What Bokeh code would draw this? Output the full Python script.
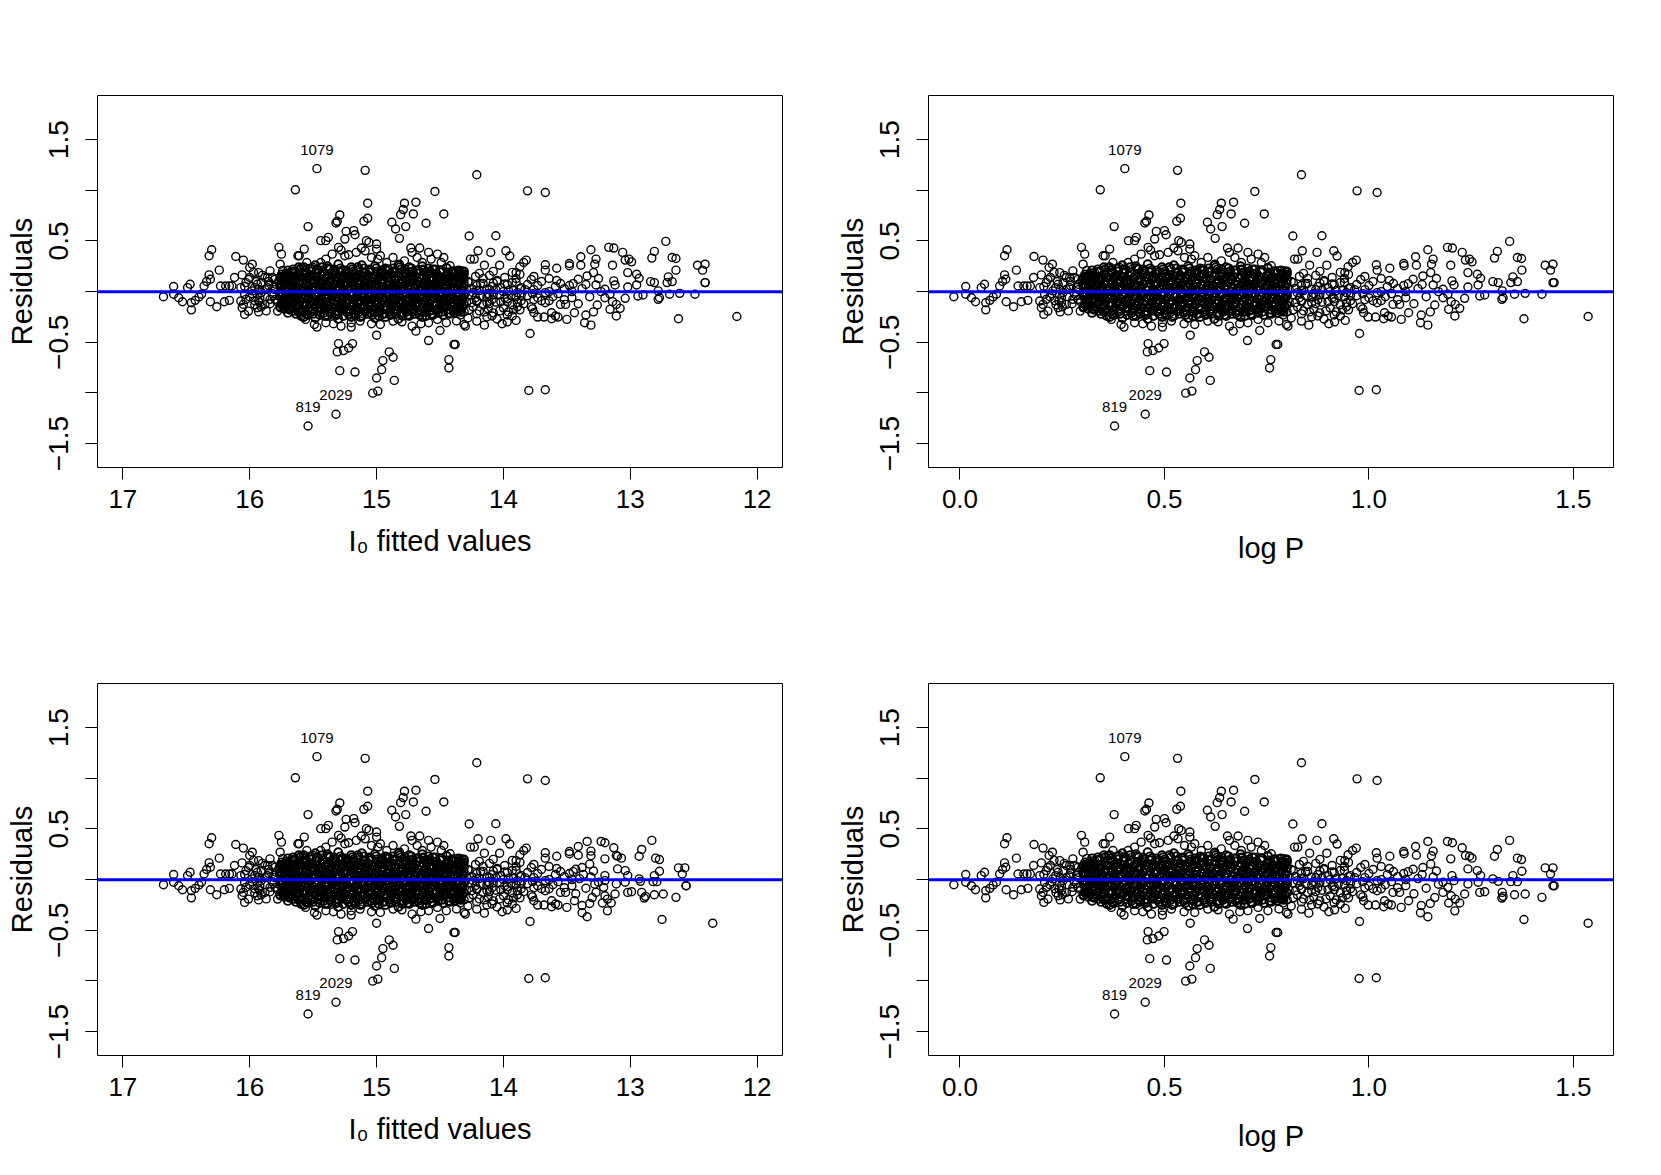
from bokeh.plotting import figure
from bokeh.models import Range1d, FixedTicker, Span, ColumnDataSource
from bokeh.layouts import column, row
from bokeh.embed import file_html
from bokeh.resources import INLINE
from bokeh.core.properties import value

# ---------------- data ----------------
# dense core of the cloud: four interleaved sets of log P columns
lp_even = [0.302, 0.315, 0.333, 0.347, 0.366, 0.379, 0.397, 0.411, 0.429, 0.443,
           0.461, 0.475, 0.493, 0.507, 0.525, 0.539, 0.557, 0.571, 0.589, 0.603,
           0.621, 0.635, 0.653, 0.667, 0.685, 0.699, 0.717, 0.731, 0.749, 0.763,
           0.781, 0.795]
fit_even = [15.760, 15.722, 15.670, 15.629, 15.573, 15.536, 15.483, 15.442, 15.390, 15.349,
            15.297, 15.256, 15.203, 15.163, 15.110, 15.069, 15.017, 14.976, 14.924, 14.883,
            14.830, 14.790, 14.737, 14.696, 14.644, 14.603, 14.551, 14.510, 14.457, 14.417,
            14.364, 14.323]
lp_odd = [0.309, 0.323, 0.341, 0.355, 0.373, 0.387, 0.405, 0.419, 0.437, 0.451,
          0.469, 0.483, 0.501, 0.515, 0.533, 0.547, 0.565, 0.579, 0.597, 0.611,
          0.629, 0.643, 0.661, 0.675, 0.693, 0.707, 0.725, 0.739, 0.757, 0.771,
          0.787]
fit_odd = [15.740, 15.699, 15.646, 15.606, 15.553, 15.512, 15.460, 15.419, 15.367, 15.326,
           15.273, 15.233, 15.180, 15.139, 15.087, 15.046, 14.994, 14.953, 14.900, 14.860,
           14.807, 14.766, 14.714, 14.673, 14.621, 14.580, 14.527, 14.487, 14.434, 14.393,
           14.347]
lp_q = [0.306, 0.320, 0.337, 0.352, 0.370, 0.384, 0.401, 0.416, 0.433, 0.448,
        0.465, 0.480, 0.497, 0.512, 0.529, 0.544, 0.561, 0.576, 0.593, 0.608,
        0.625, 0.640, 0.657, 0.672, 0.689, 0.704, 0.721, 0.736, 0.753, 0.768,
        0.785, 0.799]
fit_q = [15.748, 15.708, 15.658, 15.614, 15.562, 15.521, 15.472, 15.428, 15.378, 15.335,
         15.285, 15.241, 15.192, 15.148, 15.099, 15.055, 15.005, 14.962, 14.912, 14.868,
         14.819, 14.775, 14.726, 14.682, 14.632, 14.589, 14.539, 14.495, 14.446, 14.402,
         14.353, 14.312]
lp_r = [0.313, 0.327, 0.345, 0.359, 0.377, 0.391, 0.409, 0.423, 0.441, 0.455,
        0.473, 0.487, 0.505, 0.519, 0.537, 0.551, 0.569, 0.583, 0.601, 0.615,
        0.633, 0.647, 0.665, 0.679, 0.697, 0.711, 0.729, 0.743, 0.761, 0.775,
        0.791]
fit_r = [15.728, 15.687, 15.635, 15.594, 15.541, 15.501, 15.448, 15.407, 15.355, 15.314,
         15.262, 15.221, 15.168, 15.128, 15.075, 15.034, 14.982, 14.941, 14.889, 14.848,
         14.795, 14.755, 14.702, 14.661, 14.609, 14.568, 14.516, 14.475, 14.422, 14.382,
         14.335]
lp_sparse = [0.366, 0.397, 0.430, 0.459, 0.494, 0.523, 0.558, 0.587, 0.622, 0.651, 0.686, 0.715]
fit_sparse = [15.573, 15.483, 15.387, 15.302, 15.200, 15.116, 15.014, 14.930, 14.828, 14.743, 14.641, 14.557]

res_p15 = [0.14, 0.16, 0.15, 0.13, 0.16, 0.15, 0.14, 0.16, 0.15, 0.17,
           0.14, 0.15, 0.16, 0.14, 0.15, 0.16, 0.13, 0.15, 0.16, 0.14,
           0.15, 0.16, 0.14, 0.15, 0.13, 0.16, 0.14, 0.15, 0.13, 0.15, 0.14, 0.16]
res_p05 = [0.05, 0.04, 0.06, 0.05, 0.04, 0.06, 0.05, 0.03, 0.06, 0.05,
           0.04, 0.06, 0.05, 0.04, 0.05, 0.06, 0.04, 0.05, 0.06, 0.04,
           0.05, 0.05, 0.06, 0.04, 0.05, 0.06, 0.04, 0.05, 0.06, 0.04, 0.05, 0.04]
res_m05 = [-0.05, -0.06, -0.04, -0.05, -0.06, -0.04, -0.05, -0.07, -0.05, -0.04,
           -0.06, -0.05, -0.04, -0.06, -0.05, -0.05, -0.06, -0.04, -0.05, -0.06,
           -0.05, -0.04, -0.06, -0.05, -0.04, -0.06, -0.05, -0.04, -0.06, -0.05, -0.04, -0.06]
res_m15 = [-0.15, -0.14, -0.16, -0.15, -0.14, -0.16, -0.15, -0.17, -0.14, -0.15,
           -0.16, -0.14, -0.15, -0.16, -0.15, -0.14, -0.16, -0.15, -0.17, -0.14,
           -0.15, -0.16, -0.15, -0.14, -0.16, -0.15, -0.14, -0.16, -0.15, -0.14, -0.16, -0.15]
res_p20 = [0.15, 0.21, 0.20, 0.22, 0.19, 0.20, 0.21, 0.19, 0.22, 0.20,
           0.21, 0.19, 0.20, 0.22, 0.19, 0.21, 0.20, 0.19, 0.21, 0.20,
           0.22, 0.19, 0.20, 0.21, 0.19, 0.20, 0.18, 0.21, 0.19, 0.20, 0.18]
res_p10 = [0.10, 0.09, 0.11, 0.10, 0.08, 0.11, 0.10, 0.09, 0.11, 0.10,
           0.12, 0.09, 0.10, 0.11, 0.09, 0.10, 0.11, 0.08, 0.10, 0.11,
           0.09, 0.10, 0.12, 0.10, 0.09, 0.11, 0.10, 0.09, 0.11, 0.10, 0.09]
res_000 = [-0.01, 0.00, 0.01, -0.01, 0.00, 0.02, -0.01, 0.00, 0.01, -0.02,
           0.00, 0.01, -0.01, 0.00, 0.02, -0.01, 0.00, 0.01, -0.01, 0.00,
           0.01, -0.02, 0.00, 0.01, -0.01, 0.00, 0.02, -0.01, 0.00, 0.01, -0.01]
res_m10 = [-0.10, -0.11, -0.09, -0.10, -0.12, -0.10, -0.09, -0.11, -0.10, -0.09,
           -0.11, -0.10, -0.12, -0.10, -0.09, -0.11, -0.10, -0.09, -0.11, -0.10,
           -0.12, -0.09, -0.10, -0.11, -0.10, -0.09, -0.11, -0.10, -0.09, -0.11, -0.10]
res_m20 = [-0.14, -0.21, -0.19, -0.20, -0.22, -0.20, -0.19, -0.21, -0.20, -0.22,
           -0.19, -0.20, -0.21, -0.20, -0.19, -0.21, -0.20, -0.22, -0.20, -0.19,
           -0.21, -0.20, -0.19, -0.21, -0.20, -0.19, -0.18, -0.20, -0.21, -0.19, -0.18]
res_p225 = [0.12, 0.16, 0.22, 0.24, 0.21, 0.23, 0.22, 0.24, 0.23, 0.22,
            0.23, 0.21, 0.22, 0.24, 0.23, 0.22, 0.23, 0.21, 0.22, 0.23,
            0.24, 0.22, 0.23, 0.21, 0.22, 0.23, 0.22, 0.21, 0.23, 0.20, 0.21, 0.20]
res_p175 = [0.17, 0.18, 0.19, 0.17, 0.18, 0.16, 0.18, 0.19, 0.17, 0.18,
            0.19, 0.17, 0.18, 0.16, 0.18, 0.19, 0.17, 0.18, 0.17, 0.19,
            0.18, 0.17, 0.19, 0.18, 0.16, 0.18, 0.17, 0.19, 0.17, 0.18, 0.16, 0.17]
res_p075 = [0.07, 0.08, 0.06, 0.08, 0.07, 0.09, 0.07, 0.08, 0.06, 0.07,
            0.08, 0.07, 0.09, 0.07, 0.06, 0.08, 0.07, 0.08, 0.07, 0.06,
            0.08, 0.07, 0.09, 0.07, 0.08, 0.06, 0.07, 0.08, 0.07, 0.09, 0.07, 0.08]
res_m025 = [-0.02, -0.03, -0.02, -0.04, -0.03, -0.02, -0.03, -0.01, -0.03, -0.02,
            -0.04, -0.02, -0.03, -0.02, -0.03, -0.04, -0.02, -0.03, -0.01, -0.03,
            -0.02, -0.03, -0.04, -0.02, -0.03, -0.02, -0.03, -0.04, -0.02, -0.03, -0.02, -0.03]
res_m125 = [-0.12, -0.13, -0.12, -0.14, -0.13, -0.12, -0.13, -0.11, -0.13, -0.12,
            -0.14, -0.12, -0.13, -0.12, -0.13, -0.14, -0.12, -0.13, -0.11, -0.13,
            -0.12, -0.13, -0.14, -0.12, -0.13, -0.12, -0.13, -0.14, -0.12, -0.13, -0.12, -0.13]
res_p125 = [0.12, 0.13, 0.12, 0.14, 0.13, 0.12, 0.11, 0.13, 0.12, 0.14,
            0.13, 0.12, 0.13, 0.11, 0.12, 0.13, 0.14, 0.12, 0.13, 0.12,
            0.11, 0.13, 0.12, 0.14, 0.12, 0.13, 0.12, 0.11, 0.13, 0.12, 0.13]
res_p025 = [0.03, 0.02, 0.03, 0.01, 0.02, 0.03, 0.04, 0.02, 0.03, 0.02,
            0.01, 0.03, 0.02, 0.04, 0.03, 0.02, 0.03, 0.01, 0.02, 0.03,
            0.02, 0.04, 0.03, 0.02, 0.01, 0.03, 0.02, 0.03, 0.02, 0.04, 0.02]
res_m075 = [-0.07, -0.08, -0.07, -0.06, -0.08, -0.07, -0.09, -0.07, -0.08, -0.06,
            -0.07, -0.08, -0.07, -0.09, -0.08, -0.07, -0.06, -0.08, -0.07, -0.08,
            -0.09, -0.07, -0.08, -0.06, -0.07, -0.08, -0.07, -0.09, -0.07, -0.08, -0.07]
res_m175 = [-0.17, -0.18, -0.17, -0.19, -0.18, -0.17, -0.16, -0.18, -0.17, -0.19,
            -0.18, -0.17, -0.18, -0.16, -0.17, -0.18, -0.19, -0.17, -0.18, -0.17,
            -0.16, -0.18, -0.17, -0.19, -0.17, -0.18, -0.17, -0.16, -0.18, -0.17, -0.18]
res_m225 = [-0.12, -0.17, -0.22, -0.24, -0.23, -0.22, -0.23, -0.24, -0.22, -0.23,
            -0.24, -0.22, -0.23, -0.25, -0.22, -0.23, -0.24, -0.22, -0.23, -0.22,
            -0.24, -0.23, -0.22, -0.23, -0.24, -0.22, -0.21, -0.23, -0.22, -0.21, -0.20]
res_p25 = [0.24, 0.26, 0.25, 0.27, 0.24, 0.26, 0.25, 0.23, 0.26, 0.24, 0.25, 0.22]
res_m25 = [-0.25, -0.26, -0.24, -0.27, -0.25, -0.24, -0.26, -0.25, -0.27, -0.24, -0.25, -0.23]

# short-period end of the cloud
low_lp = [-0.015, 0.014, 0.014, 0.028, 0.038, 0.052, 0.060, 0.063, 0.063, 0.073,
          0.081, 0.089, 0.097, 0.104, 0.109, 0.112, 0.109, 0.115, 0.113, 0.131,
          0.138, 0.142, 0.150, 0.156, 0.164, 0.166, 0.172, 0.181, 0.180, 0.195,
          0.199, 0.203, 0.203, 0.205, 0.207, 0.211, 0.218, 0.221, 0.226, 0.195,
          0.199, 0.244, 0.248, 0.248, 0.240, 0.260, 0.252, 0.268, 0.276, 0.289,
          0.294, 0.297, 0.305, 0.301, 0.309, 0.317, 0.329, 0.333, 0.342, 0.350,
          0.350, 0.301, 0.285, 0.227, 0.240, 0.260, 0.301, 0.325, 0.276, 0.211,
          0.234, 0.252, 0.268, 0.289, 0.317, 0.325, 0.342, 0.346, 0.215, 0.242,
          0.220, 0.235, 0.260, 0.280, 0.290, 0.310, 0.265, 0.310, 0.270, 0.230,
          0.205, 0.215, 0.225, 0.232, 0.238, 0.245, 0.250, 0.255, 0.262, 0.270,
          0.274, 0.280, 0.285, 0.290, 0.295, 0.298, 0.305, 0.310, 0.315, 0.320,
          0.325, 0.330, 0.335, 0.340, 0.245]
low_res = [-0.050, 0.050, -0.026, -0.060, -0.100, 0.040, 0.073, -0.180, -0.110, -0.086,
           -0.053, -0.026, 0.056, 0.100, 0.165, 0.122, 0.354, 0.413, -0.100, -0.149,
           0.212, 0.056, -0.100, 0.056, 0.056, -0.086, 0.056, 0.347, 0.139, 0.040,
           0.165, 0.311, -0.126, -0.225, -0.026, -0.076, 0.238, 0.139, 0.271, -0.093,
           -0.159, 0.188, -0.109, -0.060, 0.073, 0.139, -0.010, 0.040, 0.205, -0.076,
           -0.192, 0.437, 0.370, 0.271, -0.126, 0.139, 0.188, 0.007, -0.060, 0.354,
           -0.192, 0.073, 0.040, 0.007, -0.159, -0.126, -0.159, -0.076, -0.076, 0.089,
           0.040, 0.089, 0.139, 0.122, 0.040, 0.089, 0.139, 0.040, -0.192, -0.093,
           -0.050, -0.130, 0.020, -0.020, 0.070, -0.040, -0.190, 0.210, 0.100, 0.190,
           0.050, 0.120, -0.020, -0.090, 0.100, 0.020, -0.150, 0.160, -0.050, 0.060,
           -0.120, 0.140, -0.040, 0.020, -0.100, 0.110, 0.000, -0.080, 0.070, -0.140,
           0.150, -0.020, 0.090, -0.110, -0.200]
low_fit = [16.68, 16.60, 16.60, 16.56, 16.53, 16.49, 16.47, 16.46, 16.46, 16.43,
           16.40, 16.38, 16.36, 16.34, 16.32, 16.31, 16.32, 16.30, 16.31, 16.26,
           16.24, 16.23, 16.20, 16.19, 16.16, 16.16, 16.14, 16.11, 16.12, 16.07,
           16.06, 16.05, 16.05, 16.04, 16.04, 16.03, 16.00, 16.00, 15.98, 16.07,
           16.06, 15.93, 15.92, 15.92, 15.94, 15.88, 15.91, 15.86, 15.84, 15.80,
           15.78, 15.77, 15.75, 15.76, 15.74, 15.72, 15.68, 15.67, 15.64, 15.62,
           15.62, 15.76, 15.81, 15.98, 15.94, 15.88, 15.76, 15.69, 15.84, 16.03,
           15.96, 15.91, 15.86, 15.80, 15.72, 15.69, 15.64, 15.63, 16.01, 15.93,
           16.00, 15.96, 15.88, 15.82, 15.79, 15.74, 15.87, 15.74, 15.85, 15.97,
           16.04, 16.01, 15.98, 15.96, 15.95, 15.93, 15.91, 15.90, 15.88, 15.85,
           15.84, 15.82, 15.81, 15.80, 15.78, 15.77, 15.75, 15.74, 15.72, 15.71,
           15.69, 15.68, 15.66, 15.65, 15.93]

# points above the dense band
up_lp = [0.403, 0.532, 0.343, 0.721, 0.744, 0.540, 0.639, 0.669, 0.635, 0.663,
         0.629, 0.605, 0.613, 0.641, 0.624, 0.696, 0.539, 0.530, 0.462, 0.452,
         0.456, 0.377, 0.480, 0.500, 0.504, 0.412, 0.427, 0.431, 0.476, 0.535,
         0.541, 0.562, 0.366, 0.355, 0.460, 0.466, 0.488, 0.523, 0.654, 0.680,
         0.659, 0.704, 0.729, 0.745, 0.761, 0.562, 0.574, 0.390, 0.411, 0.427,
         0.443, 0.476, 0.509, 0.533, 0.549, 0.566, 0.590, 0.606, 0.623, 0.639,
         0.672, 0.688, 0.712, 0.737, 0.753, 0.778, 0.362, 0.374]
up_res = [1.214, 1.197, 1.005, 0.989, 0.767, 0.873, 0.873, 0.883, 0.810, 0.767,
          0.760, 0.685, 0.618, 0.642, 0.526, 0.675, 0.724, 0.694, 0.757, 0.678,
          0.694, 0.642, 0.595, 0.602, 0.562, 0.503, 0.503, 0.536, 0.519, 0.503,
          0.486, 0.470, 0.420, 0.354, 0.437, 0.410, 0.364, 0.430, 0.430, 0.430,
          0.387, 0.387, 0.370, 0.337, 0.255, 0.420, 0.354, 0.238, 0.288, 0.321,
          0.370, 0.354, 0.387, 0.403, 0.337, 0.321, 0.288, 0.337, 0.271, 0.304,
          0.337, 0.288, 0.321, 0.288, 0.238, 0.205, 0.238, 0.288]
up_fit = [15.47, 15.09, 15.64, 14.54, 14.47, 15.07, 14.78, 14.69, 14.79, 14.71,
          14.81, 14.88, 14.85, 14.77, 14.82, 14.61, 15.07, 15.10, 15.29, 15.32,
          15.31, 15.54, 15.24, 15.18, 15.17, 15.44, 15.40, 15.38, 15.25, 15.08,
          15.06, 15.00, 15.57, 15.61, 15.30, 15.28, 15.22, 15.12, 14.73, 14.66,
          14.72, 14.59, 14.52, 14.47, 14.42, 15.00, 14.97, 15.50, 15.44, 15.40,
          15.35, 15.25, 15.16, 15.09, 15.04, 14.99, 14.92, 14.87, 14.82, 14.78,
          14.68, 14.64, 14.57, 14.49, 14.45, 14.37, 15.59, 15.55]

# points below the dense band
dn_lp = [0.378, 0.453, 0.464, 0.505, 0.460, 0.458, 0.472, 0.486, 0.499, 0.563,
         0.552, 0.567, 0.562, 0.576, 0.580, 0.598, 0.609, 0.612, 0.703, 0.733,
         0.760, 0.757, 0.773, 0.668, 0.401, 0.447, 0.468, 0.495, 0.495, 0.548,
         0.631, 0.659, 0.684, 0.753, 0.780, 0.976, 1.018, 0.370, 0.394, 0.427,
         0.517, 0.574, 0.606, 0.704, 0.729]
dn_res = [-1.326, -1.210, -0.780, -0.794, -0.513, -0.595, -0.582, -0.556, -0.513, -0.430,
          -1.002, -0.982, -0.853, -0.770, -0.681, -0.595, -0.648, -0.876, -0.483, -0.384,
          -0.671, -0.754, -0.522, -0.390, -0.350, -0.317, -0.340, -0.350, -0.307, -0.317,
          -0.298, -0.340, -0.317, -0.307, -0.290, -0.976, -0.969, -0.274, -0.324, -0.307,
          -0.291, -0.324, -0.291, -0.307, -0.274]
dn_fit = [15.54, 15.32, 15.29, 15.17, 15.30, 15.31, 15.26, 15.22, 15.19, 15.00,
          15.03, 14.99, 15.00, 14.96, 14.95, 14.90, 14.87, 14.86, 14.59, 14.50,
          14.43, 14.43, 14.39, 14.69, 15.47, 15.34, 15.28, 15.20, 15.20, 15.04,
          14.80, 14.72, 14.65, 14.45, 14.37, 13.80, 13.67, 15.56, 15.49, 15.40,
          15.13, 14.97, 14.87, 14.59, 14.52]

# 0.78 < log P < 1.1
mid_lp = [0.835, 0.971, 1.020, 0.814, 0.885, 0.837, 0.873, 0.914, 0.922, 0.969,
          0.960, 0.949, 0.941, 0.897, 0.855, 0.826, 0.818, 0.794, 1.018, 1.020,
          1.051, 1.085, 1.086, 1.096, 0.977, 0.777, 0.798, 0.802, 0.853, 0.835,
          0.902, 0.916, 0.942, 0.987, 0.998, 1.016, 1.036, 1.047, 1.055, 1.038,
          1.079, 1.097, 1.059, 1.075, 1.090, 1.010, 0.980,
          0.79, 0.83, 0.87, 0.91, 0.95, 0.99, 1.03,
          0.78, 0.81, 0.85, 0.89, 0.93, 0.97, 1.01, 1.06,
          0.79, 0.82, 0.84, 0.87, 0.90, 0.92, 0.95, 0.99, 1.03, 1.07,
          0.78, 0.80, 0.83, 0.86, 0.88, 0.91, 0.94, 0.97, 1.00, 1.04,
          0.79, 0.82, 0.85, 0.87, 0.90, 0.93, 0.96, 1.02,
          0.80, 0.84, 0.88, 0.92, 0.95,
          0.81, 0.86, 0.89, 0.93,
          0.80, 0.85, 0.89, 0.94, 0.98, 1.05,
          0.795, 0.835, 0.875, 0.915, 0.955, 1.00, 1.045, 1.085,
          0.785, 0.825, 0.865, 0.905, 0.945, 0.985, 1.02, 1.055, 1.09,
          0.795, 0.835, 0.875, 0.915, 0.955, 0.99, 1.03, 1.07,
          0.785, 0.825, 0.865, 0.905, 0.945, 0.985,
          0.79, 0.835, 0.875, 0.915]
mid_res = [1.154, 0.995, 0.979, 0.549, 0.552, 0.403, 0.387, 0.403, 0.351, 0.311,
           0.288, 0.245, 0.188, 0.261, 0.261, 0.321, 0.321, 0.205, 0.265, 0.212,
           0.231, 0.278, 0.255, 0.079, -0.413, -0.522, -0.324, -0.340, -0.331, -0.291,
           -0.317, -0.298, -0.284, -0.208, -0.251, -0.251, -0.268, -0.241, -0.251, -0.208,
           -0.274, -0.208, -0.126, -0.126, -0.060, -0.090, -0.150,
           0.17, 0.15, 0.16, 0.14, 0.17, 0.15, 0.13,
           0.09, 0.10, 0.08, 0.10, 0.09, 0.07, 0.10, 0.08,
           0.02, 0.03, 0.01, 0.02, 0.04, 0.01, 0.03, 0.02, 0.00, 0.03,
           -0.05, -0.04, -0.06, -0.05, -0.03, -0.06, -0.05, -0.04, -0.06, -0.05,
           -0.12, -0.11, -0.13, -0.12, -0.10, -0.13, -0.12, -0.11,
           -0.20, -0.19, -0.21, -0.20, -0.18,
           -0.26, -0.25, -0.27, -0.24,
           0.12, 0.13, 0.11, 0.13, 0.12, 0.11,
           0.05, 0.06, 0.05, 0.07, 0.04, 0.06, 0.05, 0.06,
           -0.02, -0.01, -0.02, 0.00, -0.01, -0.02, -0.01, -0.02, 0.00,
           -0.08, -0.09, -0.08, -0.07, -0.09, -0.08, -0.09, -0.08,
           -0.16, -0.15, -0.17, -0.16, -0.15, -0.17,
           -0.23, -0.22, -0.24, -0.23]
mid_fit = [14.21, 13.81, 13.67, 14.27, 14.06, 14.20, 14.10, 13.98, 13.95, 13.82,
           13.84, 13.87, 13.90, 14.03, 14.15, 14.23, 14.26, 14.33, 13.67, 13.67,
           13.58, 13.48, 13.48, 13.45, 13.79, 14.38, 14.31, 14.30, 14.15, 14.21,
           14.01, 13.97, 13.90, 13.76, 13.73, 13.68, 13.62, 13.59, 13.57, 13.62,
           13.50, 13.44, 13.55, 13.51, 13.46, 13.70, 13.78,
           14.34, 14.22, 14.11, 13.99, 13.87, 13.76, 13.64,
           14.37, 14.28, 14.16, 14.05, 13.93, 13.81, 13.70, 13.55,
           14.34, 14.25, 14.19, 14.11, 14.02, 13.96, 13.87, 13.76, 13.64, 13.52,
           14.37, 14.31, 14.22, 14.13, 14.08, 13.99, 13.90, 13.81, 13.73, 13.61,
           14.34, 14.25, 14.16, 14.11, 14.02, 13.93, 13.84, 13.67,
           14.31, 14.19, 14.08, 13.96, 13.87,
           14.28, 14.13, 14.05, 13.93,
           14.31, 14.16, 14.05, 13.90, 13.78, 13.58,
           14.32, 14.21, 14.09, 13.97, 13.86, 13.73, 13.59, 13.48,
           14.35, 14.24, 14.12, 14.00, 13.89, 13.77, 13.67, 13.57, 13.46,
           14.32, 14.21, 14.09, 13.97, 13.86, 13.76, 13.64, 13.52,
           14.35, 14.24, 14.12, 14.00, 13.89, 13.77,
           14.34, 14.21, 14.09, 13.97]

# extra stars filling the darker part just beyond the core (0.78 < log P < 0.97)
mid2_lp = [0.80, 0.84, 0.88, 0.93,
           0.785, 0.815, 0.845, 0.88, 0.91, 0.94,
           0.805, 0.835, 0.86, 0.885, 0.935, 0.965,
           0.79, 0.815, 0.845, 0.87, 0.895, 0.925, 0.955,
           0.805, 0.835, 0.86, 0.885, 0.915, 0.945,
           0.785, 0.815, 0.855, 0.895, 0.935]
mid2_res = [0.19, 0.18, 0.20, 0.19,
            0.085, 0.09, 0.08, 0.085, 0.075, 0.09,
            0.02, 0.015, 0.025, 0.02, 0.01, 0.02,
            -0.035, -0.03, -0.04, -0.035, -0.03, -0.04, -0.035,
            -0.105, -0.10, -0.11, -0.105, -0.10, -0.11,
            -0.19, -0.18, -0.20, -0.19, -0.18]
mid2_fit = [14.31, 14.19, 14.08, 13.93,
            14.35, 14.27, 14.18, 14.08, 13.99, 13.90,
            14.29, 14.21, 14.13, 14.06, 13.92, 13.83,
            14.34, 14.27, 14.18, 14.11, 14.03, 13.94, 13.86,
            14.29, 14.21, 14.13, 14.06, 13.97, 13.89,
            14.35, 14.27, 14.15, 14.03, 13.92]

# long-period end: the two fits differ here
hi_lp = [1.114, 1.144, 1.157, 1.153, 1.116, 1.151, 1.132, 1.108, 1.157, 1.126,
         1.144, 1.128, 1.161, 1.120, 1.140, 1.170, 1.110, 1.150, 1.130, 1.165,
         1.192, 1.204, 1.228, 1.236, 1.246, 1.252, 1.200, 1.242, 1.265, 1.273,
         1.267, 1.242, 1.203, 1.208, 1.181, 1.193, 1.181, 1.201, 1.195, 1.210,
         1.222, 1.211, 1.234, 1.271, 1.283, 1.303, 1.316, 1.307, 1.314, 1.344,
         1.363, 1.373, 1.374, 1.352, 1.347, 1.363, 1.326, 1.328, 1.325, 1.356,
         1.382, 1.379, 1.423, 1.431, 1.450, 1.444, 1.450, 1.453, 1.536]
hi_res_top = [0.344, 0.413, 0.321, 0.271, 0.261, 0.188, 0.155, 0.122, 0.066, -0.307,
              -0.331, -0.231, -0.132, 0.030, -0.050, 0.000, -0.120, -0.200, 0.070, 0.130,
              0.437, 0.430, 0.387, 0.311, 0.321, 0.294, 0.261, 0.188, 0.172, 0.132,
              0.066, 0.046, 0.106, 0.066, 0.023, -0.026, -0.060, -0.099, -0.175, -0.241,
              -0.165, -0.126, -0.066, -0.043, -0.033, 0.099, 0.089, 0.331, 0.397, 0.496,
              0.337, 0.327, 0.212, 0.146, 0.089, 0.099, 0.007, -0.060, -0.076, -0.026,
              -0.017, -0.268, -0.026, 0.261, 0.271, 0.212, 0.089, 0.089, -0.245]
hi_res_bot = [0.327, 0.377, 0.281, 0.236, 0.241, 0.153, 0.120, 0.102, 0.026, -0.327,
              -0.366, -0.256, -0.177, 0.010, -0.085, -0.045, -0.140, -0.235, 0.050, 0.085,
              0.377, 0.364, 0.314, 0.238, 0.231, 0.212, 0.205, 0.106, 0.089, 0.040,
              -0.026, -0.043, 0.040, -0.010, -0.026, -0.076, -0.126, -0.159, -0.231, -0.308,
              -0.231, -0.192, -0.142, -0.126, -0.119, 0.007, -0.017, 0.231, 0.298, 0.387,
              0.212, 0.198, 0.083, 0.040, -0.020, -0.020, -0.126, -0.165, -0.182, -0.149,
              -0.142, -0.394, -0.175, 0.116, 0.116, 0.056, -0.060, -0.060, -0.430]
hi_fit_top = [13.39, 13.31, 13.27, 13.28, 13.39, 13.29, 13.34, 13.41, 13.27, 13.36,
              13.31, 13.35, 13.26, 13.38, 13.32, 13.23, 13.41, 13.29, 13.35, 13.25,
              13.17, 13.13, 13.06, 13.04, 13.01, 12.99, 13.14, 13.02, 12.95, 12.93,
              12.95, 13.02, 13.13, 13.12, 13.20, 13.16, 13.20, 13.14, 13.16, 13.11,
              13.08, 13.11, 13.04, 12.94, 12.90, 12.84, 12.81, 12.83, 12.81, 12.72,
              12.67, 12.64, 12.64, 12.70, 12.71, 12.67, 12.78, 12.77, 12.78, 12.69,
              12.61, 12.62, 12.49, 12.47, 12.41, 12.43, 12.41, 12.41, 12.16]
hi_fit_bot = [13.41, 13.34, 13.31, 13.31, 13.41, 13.32, 13.38, 13.43, 13.31, 13.38,
              13.34, 13.38, 13.30, 13.40, 13.35, 13.28, 13.43, 13.32, 13.37, 13.29,
              13.23, 13.20, 13.13, 13.11, 13.10, 13.07, 13.20, 13.10, 13.04, 13.02,
              13.04, 13.11, 13.20, 13.20, 13.25, 13.21, 13.27, 13.20, 13.22, 13.18,
              13.15, 13.18, 13.12, 13.02, 12.99, 12.93, 12.92, 12.93, 12.91, 12.83,
              12.80, 12.77, 12.77, 12.81, 12.82, 12.79, 12.91, 12.88, 12.89, 12.81,
              12.74, 12.75, 12.64, 12.62, 12.57, 12.59, 12.56, 12.56, 12.35]

# labelled stars
lab_names = ["1079", "819", "2029"]
lab_lp = [0.403, 0.378, 0.453]
lab_res = [1.214, -1.326, -1.210]
lab_fit = [15.47, 15.54, 15.32]

# ---------------- assemble ----------------
core_groups = [
    (lp_even, fit_even, res_p15), (lp_even, fit_even, res_p05),
    (lp_even, fit_even, res_m05), (lp_even, fit_even, res_m15),
    (lp_odd, fit_odd, res_p20), (lp_odd, fit_odd, res_p10), (lp_odd, fit_odd, res_000),
    (lp_odd, fit_odd, res_m10), (lp_odd, fit_odd, res_m20),
    (lp_q, fit_q, res_p225), (lp_q, fit_q, res_p175), (lp_q, fit_q, res_p075),
    (lp_q, fit_q, res_m025), (lp_q, fit_q, res_m125),
    (lp_r, fit_r, res_p125), (lp_r, fit_r, res_p025), (lp_r, fit_r, res_m075),
    (lp_r, fit_r, res_m175), (lp_r, fit_r, res_m225),
    (lp_sparse, fit_sparse, res_p25), (lp_sparse, fit_sparse, res_m25),
]
other_groups = [
    (low_lp, low_fit, low_res), (up_lp, up_fit, up_res),
    (dn_lp, dn_fit, dn_res), (mid_lp, mid_fit, mid_res),
    (mid2_lp, mid2_fit, mid2_res),
]


def collect(groups):
    lp, fit, res = [], [], []
    for a, b, c in groups:
        assert len(a) == len(b) == len(c), (len(a), len(b), len(c))
        lp += a
        fit += b
        res += c
    return lp, fit, res


core_lp, core_fit, core_res = collect(core_groups)
oth_lp, oth_fit, oth_res = collect(other_groups)
for arr in (hi_res_top, hi_res_bot, hi_fit_top, hi_fit_bot):
    assert len(arr) == len(hi_lp)

core_src = ColumnDataSource(dict(lp=core_lp, fit=core_fit, res=core_res))
top_src = ColumnDataSource(dict(lp=oth_lp + hi_lp, fit=oth_fit + hi_fit_top,
                                res=oth_res + hi_res_top))
bot_src = ColumnDataSource(dict(lp=oth_lp + hi_lp, fit=oth_fit + hi_fit_bot,
                                res=oth_res + hi_res_bot))
lab_src = ColumnDataSource(dict(lp=lab_lp, fit=lab_fit, res=lab_res, name=lab_names))

FONT = "Liberation Sans"


def make_panel(src, xcol, top_row, right_col):
    if xcol == "fit":
        xr = Range1d(17.2, 11.8)
        xticks = [12, 13, 14, 15, 16, 17]
        xlab = "I\u2080 fitted values"
        xover = {}
        xstand = 14
    else:
        xr = Range1d(-0.077, 1.598)
        xticks = [0, 0.5, 1, 1.5]
        xlab = "log P"
        xover = {0: "0.0", 0.5: "0.5", 1: "1.0", 1.5: "1.5"}
        xstand = 21
    p = figure(frame_width=685, frame_height=372,
               x_range=xr, y_range=Range1d(-1.736, 1.936),
               output_backend="svg", toolbar_location=None,
               min_border_left=97, min_border_right=(30 if right_col else 49),
               min_border_top=(95 if top_row else 93),
               min_border_bottom=(123 if top_row else 110))
    p.xgrid.visible = False
    p.ygrid.visible = False
    p.outline_line_color = "black"
    p.outline_line_width = 1
    p.background_fill_color = "white"
    p.border_fill_color = "white"

    # unresolved dense core of the cloud (overlapping circles read as solid black)
    p.scatter(x=xcol, y="res", source=core_src, marker="circle", size=8,
              fill_color=None, line_color="black", line_width=1.9)
    p.scatter(x=xcol, y="res", source=src, marker="circle", size=8,
              fill_color=None, line_color="black", line_width=1.4)
    p.add_layout(Span(location=0, dimension="width", line_color="#0000FF", line_width=3))
    p.text(x=xcol, y="res", text="name", source=lab_src, y_offset=-19,
           text_align="center", text_baseline="middle",
           text_font=value(FONT), text_font_size="15px", text_color="black")

    xa = p.xaxis[0]
    xa.ticker = FixedTicker(ticks=xticks)
    xa.major_label_overrides = xover
    xa.axis_label = xlab
    xa.axis_label_standoff = xstand
    xa.major_label_standoff = 10
    xa.major_label_text_font_size = "26px"
    ya = p.yaxis[0]
    ya.ticker = FixedTicker(ticks=[-1.5, -1, -0.5, 0, 0.5, 1, 1.5])
    ya.major_label_overrides = {-1.5: "\u22121.5", -1: "", -0.5: "\u22120.5", 0: "",
                                0.5: "0.5", 1: "", 1.5: "1.5"}
    ya.major_label_orientation = "vertical"
    ya.major_label_standoff = 17
    ya.major_label_text_font_size = "28px"
    ya.axis_label = "Residuals"
    ya.axis_label_standoff = 9
    for ax in (xa, ya):
        ax.axis_line_color = None
        ax.major_tick_out = 12
        ax.major_tick_in = 0
        ax.minor_tick_out = 0
        ax.minor_tick_in = 0
        ax.major_tick_line_color = "black"
        ax.major_tick_line_width = 1
        ax.major_label_text_font = FONT
        ax.major_label_text_color = "black"
        ax.axis_label_text_font = FONT
        ax.axis_label_text_font_size = "29px"
        ax.axis_label_text_font_style = "normal"
        ax.axis_label_text_color = "black"
    return p


p1 = make_panel(top_src, "fit", True, False)
p2 = make_panel(top_src, "lp", True, True)
p3 = make_panel(bot_src, "fit", False, False)
p4 = make_panel(bot_src, "lp", False, True)

layout = column(row(p1, p2), row(p3, p4))
open("out.html", "w").write(file_html(layout, INLINE))
